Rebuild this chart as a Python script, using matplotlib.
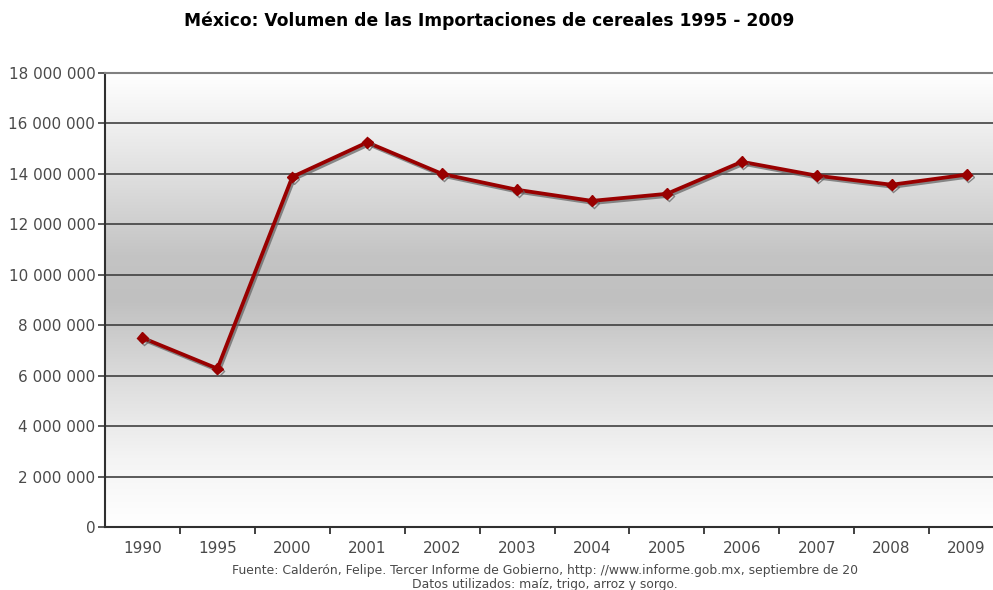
import matplotlib
matplotlib.use("Agg")
import matplotlib.pyplot as plt
import matplotlib.patheffects as pe
import numpy as np
from matplotlib.colors import LinearSegmentedColormap
from matplotlib.ticker import FuncFormatter, FixedLocator

years = ["1990", "1995", "2000", "2001", "2002", "2003", "2004",
         "2005", "2006", "2007", "2008", "2009"]
volumen = [7500000, 6280000, 13880000, 15250000, 14000000, 13370000,
           12930000, 13210000, 14480000, 13930000, 13570000, 13970000]

titulo = "México: Volumen de las Importaciones de cereales 1995 - 2009"
fuente = ("Fuente: Calderón, Felipe. Tercer Informe de Gobierno, "
          "http: //www.informe.gob.mx, septiembre de 20\n"
          "Datos utilizados: maíz, trigo, arroz y sorgo.")

txt = "#4a4a4a"
fig = plt.figure(figsize=(9.93, 5.90), dpi=100)
ax = fig.add_axes([105/993, 63/590, 899/993, 454/590])

# fondo degradado gris
cmap = LinearSegmentedColormap.from_list("bg", [
    (0.0, "#ffffff"), (0.15, "#f4f4f4"), (0.3, "#e0e0e0"),
    (0.5, "#c0c0c0"), (0.6, "#c4c4c4"), (0.82, "#e6e6e6"),
    (1.0, "#ffffff")])
grad = np.linspace(0, 1, 256).reshape(-1, 1)
ax.imshow(grad, cmap=cmap, aspect="auto", origin="lower",
          extent=[0, 1, 0, 1], transform=ax.transAxes, zorder=0)

x = np.arange(len(years))
ax.plot(x, volumen, color="#990000", lw=2.7, marker="D", ms=5.5,
        zorder=3,
        path_effects=[pe.SimpleLineShadow(offset=(1.2, -1.5),
                                          shadow_color="#606060", alpha=0.7),
                      pe.Normal()])

ax.set_xlim(-0.5, 11.5)
ax.set_ylim(0, 18000000)
ax.set_yticks(np.arange(0, 18000001, 2000000))
ax.yaxis.set_major_formatter(FuncFormatter(
    lambda v, p: f"{int(v):,}".replace(",", " ")))
ax.grid(axis="y", color="#404040", lw=1.2, zorder=1)
ax.set_axisbelow(True)

ax.set_xticks(x)
ax.set_xticklabels(years)
ax.xaxis.set_minor_locator(FixedLocator(np.arange(0.5, 11, 1)))
ax.tick_params(axis="x", which="major", length=0, pad=10,
               labelsize=11, colors=txt)
ax.tick_params(axis="x", which="minor", length=5, width=1.2, color="#202020")
ax.tick_params(axis="y", length=5, width=1.2, color="#404040",
               labelsize=11, labelcolor=txt, pad=2)

for s in ["left", "bottom"]:
    ax.spines[s].set_color("#303030")
    ax.spines[s].set_linewidth(1.5)
ax.spines["top"].set_color("#808080")
ax.spines["top"].set_linewidth(1.5)
ax.spines["right"].set_visible(False)

fig.text(0.493, 0.965, titulo, ha="center", va="center",
         fontsize=12.3, fontweight="bold", color="black")
fig.text(0.549, 0.022, fuente, ha="center", va="center",
         fontsize=8.9, color=txt, linespacing=1.1)

fig.savefig("out.png", dpi=100)
